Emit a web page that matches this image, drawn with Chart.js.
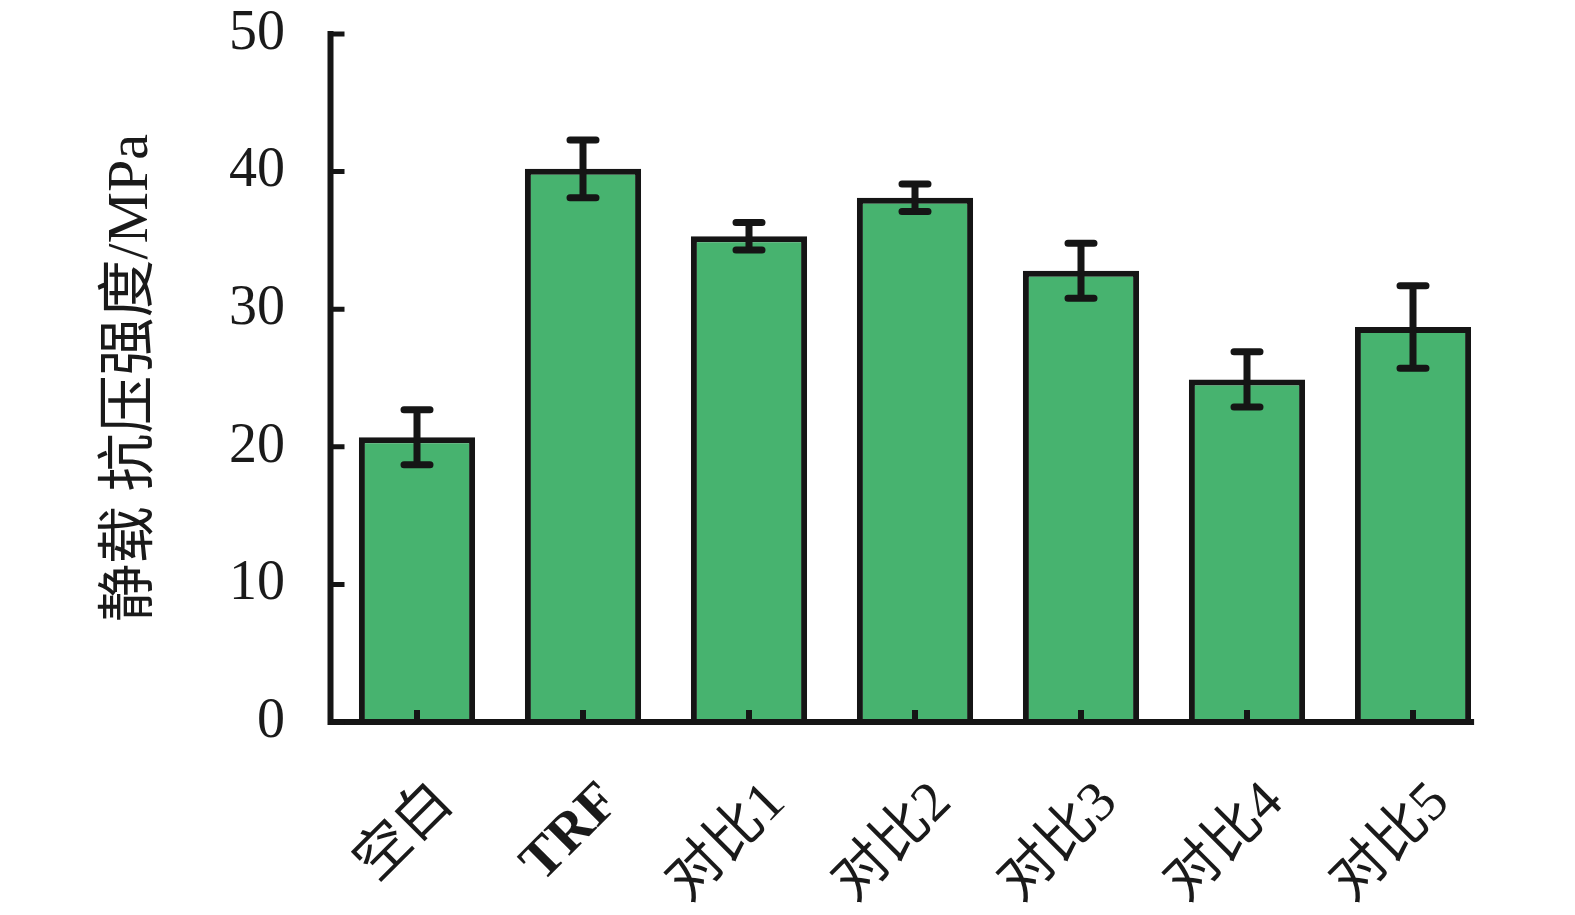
<!DOCTYPE html>
<html>
<head>
<meta charset="utf-8">
<script src="https://cdn.jsdelivr.net/npm/chart.js@4.4.1/dist/chart.umd.min.js"></script>
<style>
  html, body { margin: 0; padding: 0; background: #fff; }
  #wrap { width: 1575px; height: 915px; }
</style>
</head>
<body>
<div id="wrap"><canvas id="strengthChart"></canvas></div>
<script>
const categories = ["空白", "TRF", "对比1", "对比2", "对比3", "对比4", "对比5"];
const means = [20.7, 40.2, 35.3, 38.1, 32.8, 24.9, 28.7];
const errors = [2.0, 2.1, 1.0, 1.0, 2.0, 2.0, 3.0];
const yTicks = [0, 10, 20, 30, 40, 50];

const FONT = '"Liberation Serif", "Noto Sans CJK SC", serif';

// axes, inside ticks and error bars drawn on top of the bars
const axisPlugin = {
    id: "axisAndErrors",
    afterDatasetsDraw(chart) {
        let ctx = chart.ctx;
        let y = chart.scales.y;
        let meta = chart.getDatasetMeta(0);
        ctx.save();
        ctx.strokeStyle = "#151515";

        // error bars
        ctx.lineWidth = 7;
        ctx.lineCap = "round";
        meta.data.forEach((bar, i) => {
            let hi = y.getPixelForValue(means[i] + errors[i]);
            let lo = y.getPixelForValue(means[i] - errors[i]);
            ctx.beginPath();
            ctx.moveTo(bar.x, hi);
            ctx.lineTo(bar.x, lo);
            ctx.moveTo(bar.x - 13, hi);
            ctx.lineTo(bar.x + 13, hi);
            ctx.moveTo(bar.x - 13, lo);
            ctx.lineTo(bar.x + 13, lo);
            ctx.stroke();
        });

        // axis lines
        let x0 = chart.chartArea.left - 3.5;
        let yb = y.getPixelForValue(0);
        let last = meta.data[meta.data.length - 1];
        let xr = last.x + last.width / 2;
        ctx.lineWidth = 6;
        ctx.lineCap = "square";
        ctx.beginPath();
        ctx.moveTo(x0, y.getPixelForValue(yTicks[yTicks.length - 1]));
        ctx.lineTo(x0, yb);
        ctx.lineTo(xr, yb);
        ctx.stroke();

        // ticks pointing inward
        ctx.lineCap = "butt";
        ctx.lineWidth = 5;
        ctx.beginPath();
        yTicks.forEach(v => {
            let py = y.getPixelForValue(v);
            ctx.moveTo(x0, py);
            ctx.lineTo(x0 + 14, py);
        });
        ctx.stroke();
        ctx.lineWidth = 6;
        ctx.beginPath();
        meta.data.forEach(bar => {
            ctx.moveTo(bar.x, yb);
            ctx.lineTo(bar.x, yb - 12);
        });
        ctx.stroke();
        ctx.restore();
    }
};

new Chart(document.getElementById("strengthChart"), {
    type: "bar",
    data: {
        labels: categories,
        datasets: [{
            data: means,
            backgroundColor: "#47b36f",
            borderColor: "#151515",
            borderWidth: 6,
            borderSkipped: "bottom",
            barPercentage: 0.70,
            categoryPercentage: 1.0
        }]
    },
    options: {
        responsive: true,
        maintainAspectRatio: false,
        animation: false,
        layout: { padding: { top: 34, right: 79, left: 0, bottom: 0 } },
        plugins: {
            legend: { display: false },
            tooltip: { enabled: false }
        },
        scales: {
            x: {
                offset: true,
                border: { display: false },
                grid: { display: false, drawTicks: false },
                ticks: {
                    autoSkip: false,
                    minRotation: 45,
                    maxRotation: 45,
                    padding: 48,
                    labelOffset: 28,
                    color: "#1a1a1a",
                    font: ctx => ({
                        family: FONT,
                        size: 56,
                        weight: ctx.index === 1 ? "bold" : "normal"
                    })
                },
                afterFit(scale) {
                    scale.height = 193;
                    scale.paddingLeft = 0;
                    scale.paddingRight = 0;
                }
            },
            y: {
                min: 0,
                max: 50,
                border: { display: false },
                grid: { display: false, drawTicks: false },
                afterBuildTicks(scale) {
                    scale.ticks = yTicks.map(v => ({ value: v }));
                },
                ticks: {
                    padding: 49,
                    color: "#1a1a1a",
                    font: { family: FONT, size: 56 }
                },
                title: {
                    display: true,
                    text: "静载 抗压强度/MPa",
                    color: "#1a1a1a",
                    font: { family: FONT, size: 58 },
                    padding: { top: 97, bottom: 0 }
                },
                afterFit(scale) {
                    scale.width = 334;
                    scale.paddingTop = 0;
                    scale.paddingBottom = 0;
                }
            }
        }
    },
    plugins: [axisPlugin]
});
</script>
</body>
</html>
